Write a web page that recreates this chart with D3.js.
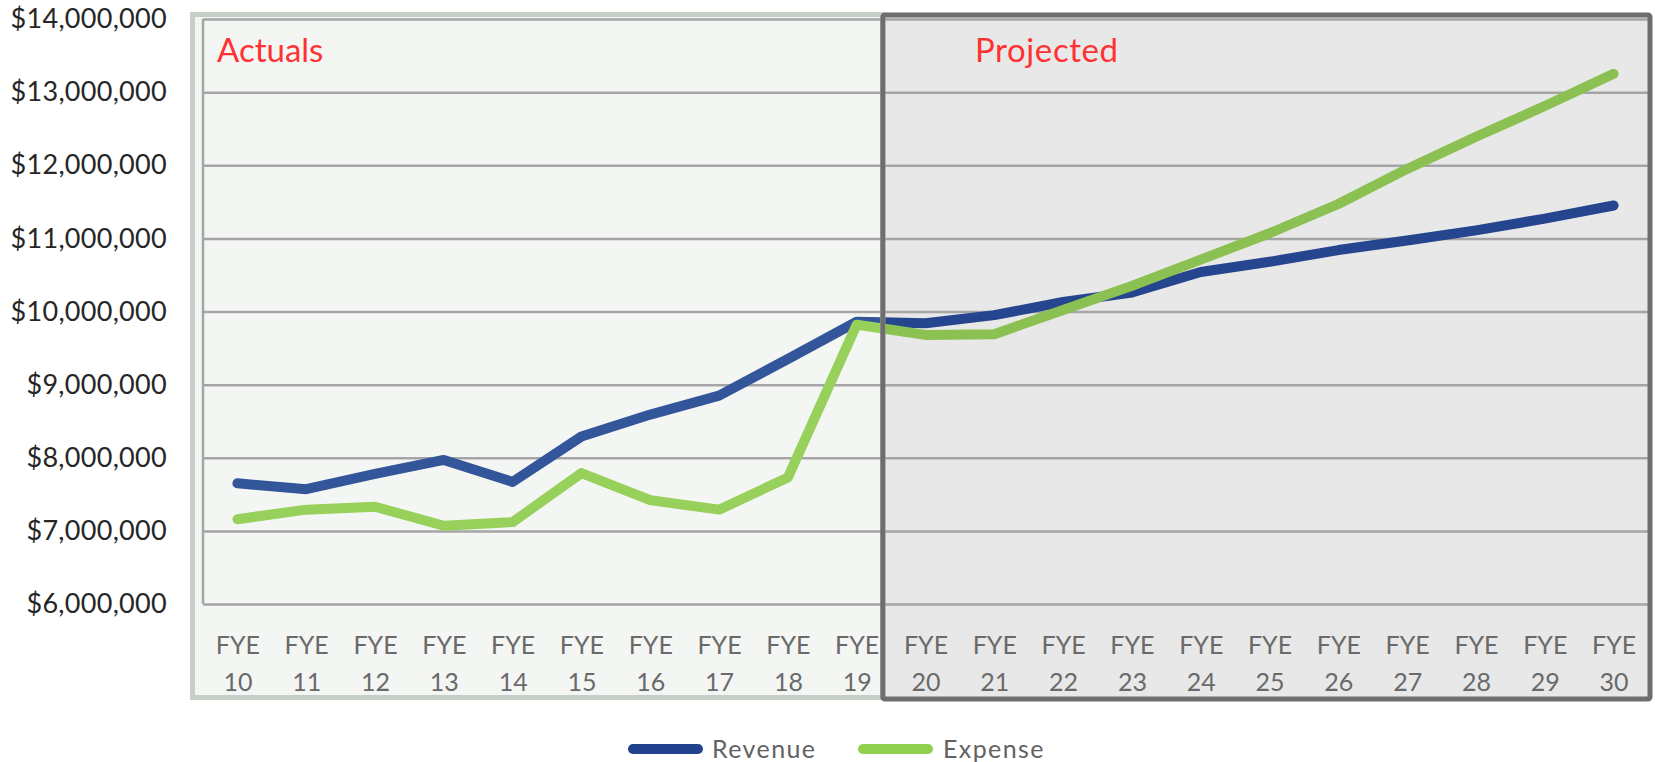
<!DOCTYPE html>
<html>
<head>
<meta charset="utf-8">
<script src="https://cdn.jsdelivr.net/npm/d3@7"></script>
<style>
  html, body { margin: 0; padding: 0; background: #ffffff; }
  svg { display: block; font-family: Lato, "Open Sans", sans-serif; }
</style>
</head>
<body>
<svg id="chart" width="1655" height="762"></svg>
<script>
// Fiscal years shown on the category axis
const years = ["10","11","12","13","14","15","16","17","18","19","20",
               "21","22","23","24","25","26","27","28","29","30"];
const categories = years.map(y => "FYE " + y);

// Revenue and expense per fiscal year (USD)
const revenue = [7650000, 7570000, 7780000, 7970000, 7670000, 8290000, 8590000,
                 8850000, 9350000, 9860000, 9840000, 9950000, 10130000, 10260000,
                 10540000, 10680000, 10840000, 10970000, 11110000, 11270000, 11450000];
const expense = [7160000, 7290000, 7330000, 7070000, 7120000, 7790000, 7420000,
                 7290000, 7730000, 9820000, 9680000, 9690000, 10020000, 10350000,
                 10710000, 11070000, 11470000, 11950000, 12390000, 12810000, 13250000];

// Value axis ticks
const yTicks = [6000000, 7000000, 8000000, 9000000, 10000000, 11000000, 12000000, 13000000, 14000000];

// Last actual year
const lastActual = "FYE 19";

const series = [
  { name: "Revenue", values: revenue, color: "#22418f", actualColor: "#33559a", projColor: "#25458f" },
  { name: "Expense", values: expense, color: "#92d050", actualColor: "#98d05c", projColor: "#8bc152" }
];

const svg = d3.select("#chart");

const plot = { left: 203, right: 1648, top: 19, bottom: 604 };

const x = d3.scalePoint()
  .domain(categories)
  .range([plot.left, plot.right])
  .padding(0.5);

const y = d3.scaleLinear()
  .domain([d3.min(yTicks), d3.max(yTicks)])
  .range([plot.bottom, plot.top]);

// Boundary between actual and projected periods, just past the last actual year
const splitX = x(lastActual) + x.step() * 0.38;

// Region frames
const actualBox = { x0: 192.5, y0: 14.5, x1: splitX, y1: 697.5 };
const projBox = { x0: splitX, y0: 15, x1: 1650, y1: 699 };

// Backgrounds
svg.append("rect")
  .attr("x", actualBox.x0).attr("y", actualBox.y0)
  .attr("width", actualBox.x1 - actualBox.x0).attr("height", actualBox.y1 - actualBox.y0)
  .attr("fill", "#f4f6f4");
svg.append("rect")
  .attr("x", projBox.x0).attr("y", projBox.y0)
  .attr("width", projBox.x1 - projBox.x0).attr("height", projBox.y1 - projBox.y0)
  .attr("fill", "#e8e8e8");

// Horizontal gridlines
const grid = svg.append("g")
  .attr("transform", `translate(${plot.left},0)`)
  .call(d3.axisLeft(y).tickValues(yTicks).tickSize(-(plot.right - plot.left)).tickFormat(""));
grid.select(".domain").remove();
grid.selectAll(".tick line").attr("stroke", "#a5a5a5").attr("stroke-width", 2.5);

// Vertical axis line
svg.append("line")
  .attr("x1", plot.left).attr("x2", plot.left)
  .attr("y1", plot.top).attr("y2", plot.bottom)
  .attr("stroke", "#a5a5a5").attr("stroke-width", 2.5);

// Y tick labels
const yAxis = svg.append("g")
  .attr("transform", `translate(167,0)`)
  .call(d3.axisLeft(y).tickValues(yTicks).tickSize(0).tickPadding(0)
    .tickFormat(d3.format("$,")));
yAxis.select(".domain").remove();
yAxis.selectAll("text")
  .attr("fill", "#262626")
  .style("font-size", "27px")
  .style("letter-spacing", "0.3px")
  .style("font-family", "Lato, sans-serif");

// X tick labels (two lines)
const xAxis = svg.append("g")
  .attr("transform", `translate(0,${plot.bottom})`)
  .call(d3.axisBottom(x).tickSize(0).tickFormat(""));
xAxis.select(".domain").remove();
xAxis.selectAll(".tick").each(function(d) {
  const parts = d.split(" ");
  const t = d3.select(this).append("text")
    .attr("text-anchor", "middle")
    .attr("fill", "#6a6a6a")
    .style("font-size", "25px")
    .style("font-family", "Lato, sans-serif");
  t.append("tspan").attr("x", 0).attr("y", 50).text(parts[0]);
  t.append("tspan").attr("x", 0).attr("y", 87).text(parts[1]);
});

// Clip regions so the lines pick up each period's tint
const defs = svg.append("defs");
defs.append("clipPath").attr("id", "clip-actual")
  .append("rect").attr("x", 0).attr("y", 0).attr("width", splitX).attr("height", 762);
defs.append("clipPath").attr("id", "clip-proj")
  .append("rect").attr("x", splitX).attr("y", 0).attr("width", 1655 - splitX).attr("height", 762);

const line = d3.line()
  .x((d, i) => x(categories[i]))
  .y(d => y(d));

[["clip-actual", "actualColor"], ["clip-proj", "projColor"]].forEach(([clip, key]) => {
  const g = svg.append("g").attr("clip-path", `url(#${clip})`);
  g.selectAll("path")
    .data(series)
    .join("path")
    .attr("d", s => line(s.values))
    .attr("fill", "none")
    .attr("stroke", s => s[key])
    .attr("stroke-width", 10)
    .attr("stroke-linecap", "round")
    .attr("stroke-linejoin", "round");
});

// Frames
svg.append("rect")
  .attr("x", actualBox.x0).attr("y", actualBox.y0)
  .attr("width", actualBox.x1 - actualBox.x0).attr("height", actualBox.y1 - actualBox.y0)
  .attr("fill", "none").attr("stroke", "#c6cfc7").attr("stroke-width", 5);
svg.append("rect")
  .attr("x", projBox.x0).attr("y", projBox.y0)
  .attr("width", projBox.x1 - projBox.x0).attr("height", projBox.y1 - projBox.y0)
  .attr("rx", 2)
  .attr("fill", "none").attr("stroke", "#6e6e6e").attr("stroke-width", 5);

// Region titles
svg.append("text")
  .attr("x", 217).attr("y", 62)
  .attr("fill", "#ff3131")
  .style("font-size", "33px")
  .text("Actuals");
svg.append("text")
  .attr("x", 975).attr("y", 62)
  .attr("fill", "#ff3131")
  .style("font-size", "33px")
  .style("letter-spacing", "0.6px")
  .text("Projected");

// Legend
const legendPos = [{ lx: 633, tx: 712 }, { lx: 863, tx: 943 }];
const legend = svg.append("g").selectAll("g")
  .data(series)
  .join("g");
legend.append("line")
  .attr("x1", (d, i) => legendPos[i].lx).attr("x2", (d, i) => legendPos[i].lx + 65)
  .attr("y1", 749).attr("y2", 749)
  .attr("stroke", d => d.color)
  .attr("stroke-width", 10)
  .attr("stroke-linecap", "round");
legend.append("text")
  .attr("x", (d, i) => legendPos[i].tx).attr("y", 749)
  .attr("dy", "0.36em")
  .attr("fill", "#626262")
  .style("font-size", "25px")
  .style("letter-spacing", "1.4px")
  .text(d => d.name);
</script>
</body>
</html>
